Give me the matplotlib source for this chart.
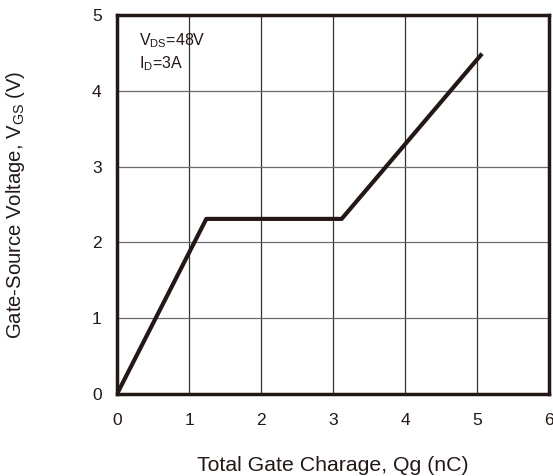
import matplotlib
matplotlib.use("Agg")
import matplotlib.pyplot as plt

plt.rcParams['font.family'] = ['Liberation Sans', 'DejaVu Sans']

# gate charge curve (nC, V)
qg = [0.0, 1.24, 3.12, 5.07]
vgs = [0.0, 2.31, 2.31, 4.49]

x_ticks = [0, 1, 2, 3, 4, 5, 6]
y_ticks = [0, 1, 2, 3, 4, 5]

fig = plt.figure(figsize=(5.53, 4.76), dpi=100)
ax = fig.add_axes([0.2116, 0.1723, 0.7812, 0.7962])

for x in x_ticks[1:-1]:
    ax.axvline(x, color='#3a3232', lw=0.9, zorder=1)
for y in y_ticks[1:-1]:
    ax.axhline(y, color='#6e6868', lw=0.9, zorder=1)

ax.plot(qg, vgs, color='#231815', lw=3.0, solid_capstyle='butt', zorder=3)

ax.set_xlim(0, 6)
ax.set_ylim(0, 5)
ax.set_xticks(x_ticks)
ax.set_yticks(y_ticks)
ax.tick_params(length=0, labelsize=12.5, colors='#231815')
ax.tick_params(axis='x', pad=14)
ax.tick_params(axis='y', pad=11)
for s in ax.spines.values():
    s.set_linewidth(2.5)
    s.set_color('#231815')

ax.set_xlabel('Total Gate Charage, Qg (nC)', fontsize=15.3, color='#231815', labelpad=20)
ax.set_ylabel(r'Gate-Source Voltage, V$_{\mathregular{GS}}$ (V)', fontsize=14.6,
              color='#231815')
ax.yaxis.set_label_coords(-0.208, 0.5)

ax.text(0.3, 4.66, r'V$_{\mathregular{DS}}$=48V', fontsize=11.5, color='#231815', va='center')
ax.text(0.3, 4.36, r'I$_{\mathregular{D}}$=3A', fontsize=11.5, color='#231815', va='center')

fig.savefig('out.png', dpi=100)
